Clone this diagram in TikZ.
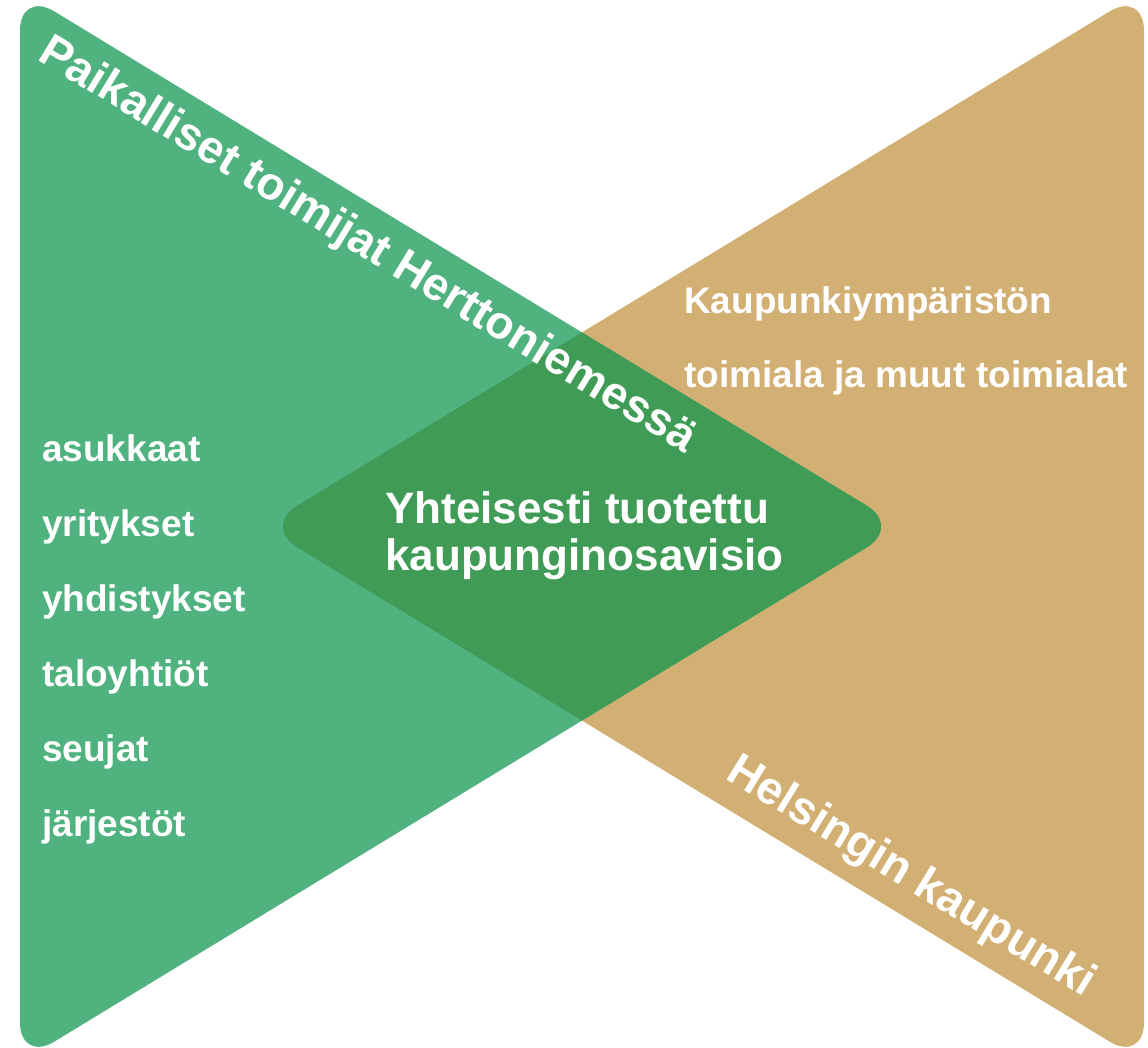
\documentclass[tikz,border=0pt]{standalone}
\usepackage{fontspec}
\setmainfont{Liberation Sans}
\usetikzlibrary{positioning, calc}
\definecolor{localgreen}{RGB}{79,178,127}
\definecolor{citytan}{RGB}{210,175,114}
\definecolor{sharedgreen}{RGB}{63,155,85}

\begin{document}
\begin{tikzpicture}[x=1pt, y=-1pt,
    lbl/.style={inner sep=0pt, text=white, font=\bfseries\fontsize{37}{74}\selectfont, align=left},
    biglbl/.style={inner sep=0pt, text=white, font=\bfseries\fontsize{44}{47}\selectfont, align=left},
    sidelbl/.style={inner sep=0pt, text=white, font=\bfseries\fontsize{46}{46}\selectfont, rotate=-31.3}]
      \useasboundingbox (0, 0) rectangle (1148, 1047);

      % the two triangles
      \fill[citytan, rounded corners=40] (1144, -9.5) -- (1144, 1062.5) -- (263, 526.5) -- cycle;
      \fill[localgreen, rounded corners=40] (20, -9.5) -- (20, 1062.5) -- (901, 526.5) -- cycle;
      \begin{scope}
        \clip[rounded corners=40] (1144, -9.5) -- (1144, 1062.5) -- (263, 526.5) -- cycle;
        \fill[sharedgreen, rounded corners=40] (20, -9.5) -- (20, 1062.5) -- (901, 526.5) -- cycle;
      \end{scope}

      % side titles
      \node[sidelbl, anchor=base west] (local) at (36, 59) {Paikalliset toimijat Herttoniemessä};
      \node[sidelbl, anchor=base west] (city) at (724, 778) {Helsingin kaupunki};

      % shared vision (base = last line)
      \node[biglbl, anchor=base west] (vision) at (385, 570) {Yhteisesti tuotettu\\kaupunginosavisio};

      % city sectors
      \node[lbl, anchor=base west] (sector) at (684, 387) {Kaupunkiympäristön\\toimiala ja muut toimialat};

      % local actors
      \foreach \w [count=\i] in {asukkaat, yritykset, yhdistykset, taloyhtiöt, seujat, järjestöt}
        \node[lbl, anchor=base west] (actor\i) at (42, {461 + 75*(\i-1)}) {\w};
    \end{tikzpicture}
\end{document}
